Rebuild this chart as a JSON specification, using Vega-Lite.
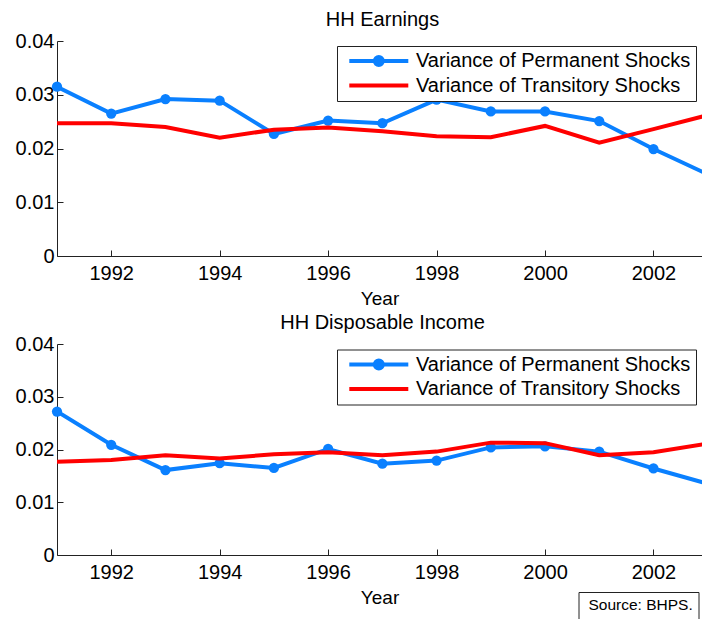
{
  "$schema": "https://vega.github.io/schema/vega-lite/v6.json",
  "padding": {"left": 15, "top": 10, "right": 0, "bottom": 0},
  "background": "white",
  "datasets": {
    "shocks": [
      {"panel": "HH Earnings", "series": "Variance of Permanent Shocks", "year": 1991, "value": 0.0315},
      {"panel": "HH Earnings", "series": "Variance of Permanent Shocks", "year": 1992, "value": 0.0265},
      {"panel": "HH Earnings", "series": "Variance of Permanent Shocks", "year": 1993, "value": 0.0292},
      {"panel": "HH Earnings", "series": "Variance of Permanent Shocks", "year": 1994, "value": 0.0289},
      {"panel": "HH Earnings", "series": "Variance of Permanent Shocks", "year": 1995, "value": 0.0227},
      {"panel": "HH Earnings", "series": "Variance of Permanent Shocks", "year": 1996, "value": 0.0252},
      {"panel": "HH Earnings", "series": "Variance of Permanent Shocks", "year": 1997, "value": 0.0247},
      {"panel": "HH Earnings", "series": "Variance of Permanent Shocks", "year": 1998, "value": 0.0291},
      {"panel": "HH Earnings", "series": "Variance of Permanent Shocks", "year": 1999, "value": 0.0269},
      {"panel": "HH Earnings", "series": "Variance of Permanent Shocks", "year": 2000, "value": 0.0269},
      {"panel": "HH Earnings", "series": "Variance of Permanent Shocks", "year": 2001, "value": 0.0251},
      {"panel": "HH Earnings", "series": "Variance of Permanent Shocks", "year": 2002, "value": 0.0199},
      {"panel": "HH Earnings", "series": "Variance of Permanent Shocks", "year": 2003, "value": 0.0152},
      {"panel": "HH Earnings", "series": "Variance of Transitory Shocks", "year": 1991, "value": 0.0247},
      {"panel": "HH Earnings", "series": "Variance of Transitory Shocks", "year": 1992, "value": 0.0247},
      {"panel": "HH Earnings", "series": "Variance of Transitory Shocks", "year": 1993, "value": 0.0240},
      {"panel": "HH Earnings", "series": "Variance of Transitory Shocks", "year": 1994, "value": 0.0220},
      {"panel": "HH Earnings", "series": "Variance of Transitory Shocks", "year": 1995, "value": 0.0235},
      {"panel": "HH Earnings", "series": "Variance of Transitory Shocks", "year": 1996, "value": 0.0239},
      {"panel": "HH Earnings", "series": "Variance of Transitory Shocks", "year": 1997, "value": 0.0232},
      {"panel": "HH Earnings", "series": "Variance of Transitory Shocks", "year": 1998, "value": 0.0223},
      {"panel": "HH Earnings", "series": "Variance of Transitory Shocks", "year": 1999, "value": 0.0221},
      {"panel": "HH Earnings", "series": "Variance of Transitory Shocks", "year": 2000, "value": 0.0242},
      {"panel": "HH Earnings", "series": "Variance of Transitory Shocks", "year": 2001, "value": 0.0211},
      {"panel": "HH Earnings", "series": "Variance of Transitory Shocks", "year": 2002, "value": 0.0236},
      {"panel": "HH Earnings", "series": "Variance of Transitory Shocks", "year": 2003, "value": 0.0262},
      {"panel": "HH Disposable Income", "series": "Variance of Permanent Shocks", "year": 1991, "value": 0.0272},
      {"panel": "HH Disposable Income", "series": "Variance of Permanent Shocks", "year": 1992, "value": 0.0209},
      {"panel": "HH Disposable Income", "series": "Variance of Permanent Shocks", "year": 1993, "value": 0.0161},
      {"panel": "HH Disposable Income", "series": "Variance of Permanent Shocks", "year": 1994, "value": 0.0174},
      {"panel": "HH Disposable Income", "series": "Variance of Permanent Shocks", "year": 1995, "value": 0.0165},
      {"panel": "HH Disposable Income", "series": "Variance of Permanent Shocks", "year": 1996, "value": 0.0201},
      {"panel": "HH Disposable Income", "series": "Variance of Permanent Shocks", "year": 1997, "value": 0.0173},
      {"panel": "HH Disposable Income", "series": "Variance of Permanent Shocks", "year": 1998, "value": 0.0179},
      {"panel": "HH Disposable Income", "series": "Variance of Permanent Shocks", "year": 1999, "value": 0.0204},
      {"panel": "HH Disposable Income", "series": "Variance of Permanent Shocks", "year": 2000, "value": 0.0206},
      {"panel": "HH Disposable Income", "series": "Variance of Permanent Shocks", "year": 2001, "value": 0.0196},
      {"panel": "HH Disposable Income", "series": "Variance of Permanent Shocks", "year": 2002, "value": 0.0164},
      {"panel": "HH Disposable Income", "series": "Variance of Permanent Shocks", "year": 2003, "value": 0.0135},
      {"panel": "HH Disposable Income", "series": "Variance of Transitory Shocks", "year": 1991, "value": 0.0177},
      {"panel": "HH Disposable Income", "series": "Variance of Transitory Shocks", "year": 1992, "value": 0.0180},
      {"panel": "HH Disposable Income", "series": "Variance of Transitory Shocks", "year": 1993, "value": 0.0189},
      {"panel": "HH Disposable Income", "series": "Variance of Transitory Shocks", "year": 1994, "value": 0.0183},
      {"panel": "HH Disposable Income", "series": "Variance of Transitory Shocks", "year": 1995, "value": 0.0191},
      {"panel": "HH Disposable Income", "series": "Variance of Transitory Shocks", "year": 1996, "value": 0.0195},
      {"panel": "HH Disposable Income", "series": "Variance of Transitory Shocks", "year": 1997, "value": 0.0189},
      {"panel": "HH Disposable Income", "series": "Variance of Transitory Shocks", "year": 1998, "value": 0.0196},
      {"panel": "HH Disposable Income", "series": "Variance of Transitory Shocks", "year": 1999, "value": 0.0213},
      {"panel": "HH Disposable Income", "series": "Variance of Transitory Shocks", "year": 2000, "value": 0.0212},
      {"panel": "HH Disposable Income", "series": "Variance of Transitory Shocks", "year": 2001, "value": 0.0189},
      {"panel": "HH Disposable Income", "series": "Variance of Transitory Shocks", "year": 2002, "value": 0.0195},
      {"panel": "HH Disposable Income", "series": "Variance of Transitory Shocks", "year": 2003, "value": 0.0211}
    ]
  },
  "data": {"name": "shocks"},
  "spacing": 4,
  "resolve": {"legend": {"color": "independent", "shape": "independent"}},
  "vconcat": [
    {
      "title": {"text": "HH Earnings"},
      "width": 645,
      "height": 215,
      "transform": [{"filter": "datum.panel == 'HH Earnings'"}],
      "encoding": {
        "x": {"field": "year", "type": "quantitative", "title": "Year",
              "scale": {"domain": [1991, 2002.895], "nice": false, "zero": false},
              "axis": {"values": [1992, 1994, 1996, 1998, 2000, 2002], "format": "d"}},
        "y": {"field": "value", "type": "quantitative", "title": null,
              "scale": {"domain": [0, 0.04], "nice": false},
              "axis": {"values": [0, 0.01, 0.02, 0.03, 0.04], "labelExpr": "datum.value == 0 ? '0' : format(datum.value, '.2f')"}},
        "color": {"field": "series", "type": "nominal",
                  "scale": {"domain": ["Variance of Permanent Shocks", "Variance of Transitory Shocks"], "range": ["#0a80ff", "#ff0000"]}}
      },
      "layer": [
        {
          "transform": [{"filter": "datum.series == 'Variance of Permanent Shocks'"}],
          "mark": {"type": "line", "strokeWidth": 4, "clip": true},
          "encoding": {
            "color": {"field": "series", "type": "nominal",
              "legend": {"orient": "none", "legendX": 280, "legendY": 5,
                "encode": {"symbols": {"update": {
                  "shape": [{"test": "datum.value == 'Variance of Permanent Shocks'", "value": "M-5.9,0L5.9,0M-0.8,0A0.8,0.8,0,1,1,0.8,0A0.8,0.8,0,1,1,-0.8,0Z"}, {"value": "M-5.9,0L5.9,0"}],
                  "fill": [{"test": "datum.value == 'Variance of Permanent Shocks'", "value": "#0a80ff"}, {"value": "transparent"}],
                  "stroke": [{"test": "datum.value == 'Variance of Permanent Shocks'", "value": "#0a80ff"}, {"value": "#ff0000"}],
                  "strokeWidth": {"value": 4},
                  "size": {"value": 100},
                  "opacity": {"value": 1}
                }}}}}
          }
        },
        {
          "transform": [{"filter": "datum.series == 'Variance of Permanent Shocks' && datum.year <= 2002"}],
          "mark": {"type": "point", "filled": true, "size": 105, "opacity": 1}
        },
        {
          "transform": [{"filter": "datum.series == 'Variance of Transitory Shocks'"}],
          "mark": {"type": "line", "strokeWidth": 4, "clip": true}
        }
      ]
    },
    {
      "title": {"text": "HH Disposable Income"},
      "width": 645,
      "height": 211,
      "transform": [{"filter": "datum.panel == 'HH Disposable Income'"}],
      "encoding": {
        "x": {"field": "year", "type": "quantitative", "title": "Year",
              "scale": {"domain": [1991, 2002.895], "nice": false, "zero": false},
              "axis": {"values": [1992, 1994, 1996, 1998, 2000, 2002], "format": "d"}},
        "y": {"field": "value", "type": "quantitative", "title": null,
              "scale": {"domain": [0, 0.04], "nice": false},
              "axis": {"values": [0, 0.01, 0.02, 0.03, 0.04], "labelExpr": "datum.value == 0 ? '0' : format(datum.value, '.2f')"}},
        "color": {"field": "series", "type": "nominal",
                  "scale": {"domain": ["Variance of Permanent Shocks", "Variance of Transitory Shocks"], "range": ["#0a80ff", "#ff0000"]}}
      },
      "layer": [
        {
          "transform": [{"filter": "datum.series == 'Variance of Permanent Shocks'"}],
          "mark": {"type": "line", "strokeWidth": 4, "clip": true},
          "encoding": {
            "color": {"field": "series", "type": "nominal",
              "legend": {"orient": "none", "legendX": 280, "legendY": 5.5,
                "encode": {"symbols": {"update": {
                  "shape": [{"test": "datum.value == 'Variance of Permanent Shocks'", "value": "M-5.9,0L5.9,0M-0.8,0A0.8,0.8,0,1,1,0.8,0A0.8,0.8,0,1,1,-0.8,0Z"}, {"value": "M-5.9,0L5.9,0"}],
                  "fill": [{"test": "datum.value == 'Variance of Permanent Shocks'", "value": "#0a80ff"}, {"value": "transparent"}],
                  "stroke": [{"test": "datum.value == 'Variance of Permanent Shocks'", "value": "#0a80ff"}, {"value": "#ff0000"}],
                  "strokeWidth": {"value": 4},
                  "size": {"value": 100},
                  "opacity": {"value": 1}
                }}}}}
          }
        },
        {
          "transform": [{"filter": "datum.series == 'Variance of Permanent Shocks' && datum.year <= 2002"}],
          "mark": {"type": "point", "filled": true, "size": 105, "opacity": 1},
          "encoding": {
            "shape": {"datum": "Source: BHPS.", "scale": {"range": ["circle"]},
              "legend": {"orient": "none", "legendX": 521.5, "legendY": 248, "title": null,
                "symbolOpacity": 0, "symbolSize": 0, "symbolStrokeWidth": 0, "symbolOffset": 0,
                "labelFontSize": 15.5, "labelOffset": -10.5, "padding": 5, "rowPadding": 0,
                "strokeColor": "#222", "fillColor": "white",
                "labelExpr": "datum.label + '  '"}}
          }
        },
        {
          "transform": [{"filter": "datum.series == 'Variance of Transitory Shocks'"}],
          "mark": {"type": "line", "strokeWidth": 4, "clip": true}
        }
      ]
    }
  ],
  "config": {
    "view": {"stroke": null},
    "font": "Liberation Sans",
    "axis": {
      "grid": false,
      "domainColor": "#222",
      "tickColor": "#222",
      "tickSize": -6,
      "labelFont": "Liberation Sans",
      "labelFontSize": 20,
      "labelColor": "black",
      "titleFont": "Liberation Sans",
      "titleFontSize": 19,
      "titleFontWeight": "normal",
      "titleColor": "black"
    },
    "axisX": {"labelPadding": 13.2, "titlePadding": 6},
    "axisY": {"labelPadding": 9},
    "title": {"font": "Liberation Sans", "fontSize": 20, "fontWeight": "normal", "color": "black",
              "anchor": "middle", "baseline": "middle", "offset": 1, "dx": 3},
    "legend": {
      "title": null,
      "strokeColor": "#222",
      "fillColor": "white",
      "padding": 5,
      "labelFont": "Liberation Sans",
      "labelFontSize": 20,
      "labelColor": "black",
      "labelLimit": 0,
      "rowPadding": 2.5,
      "symbolOffset": 26.8,
      "labelOffset": 27.2,
      "symbolStrokeWidth": 4,
      "symbolSize": 100
    }
  }
}
